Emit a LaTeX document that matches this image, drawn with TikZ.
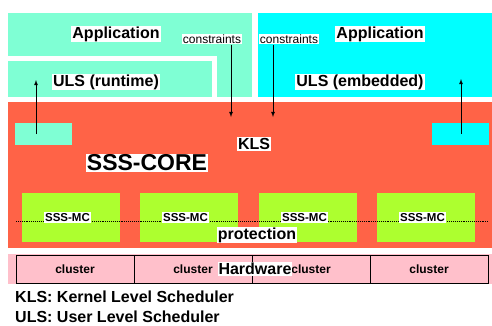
\documentclass[tikz,border=0pt]{standalone}
\usepackage{fontspec}
\setmainfont{Liberation Sans}
\usetikzlibrary{arrows}
\definecolor{aqua}{HTML}{7FFFD4}
\definecolor{cyanc}{HTML}{00FFFF}
\definecolor{coretomato}{HTML}{FF6347}
\definecolor{mcgreen}{HTML}{ADFF2F}
\definecolor{hwpink}{HTML}{FFC0CB}

\begin{document}
\begin{tikzpicture}
  [x=1pt,y=-1pt,
  box/.style={rectangle,inner sep=0pt,outer sep=0pt},
  bigtxt/.style={fill=white,inner sep=1pt,font=\fontsize{16}{18}\selectfont\bfseries},
  hugetxt/.style={fill=white,inner sep=1pt,font=\fontsize{23}{26}\selectfont\bfseries},
  smalltxt/.style={fill=white,inner sep=1pt,font=\fontsize{11.5}{13}\selectfont\bfseries},
  contxt/.style={fill=white,inner sep=1pt,font=\fontsize{12}{14}\selectfont},
  legtxt/.style={inner sep=0pt,anchor=west,font=\fontsize{16}{18}\selectfont\bfseries},
  arr/.style={->,>=latex,line width=0.8pt}]
  \useasboundingbox (0,0) rectangle (492,325);

  \node[box,fill=aqua,minimum width=244pt,minimum height=84pt] (appL) at (130,55) {};
  \fill[white] (8,56) rectangle (217,97);
  \node[box,fill=aqua,minimum width=204pt,minimum height=36pt] (ulsL) at (110,79) {};
  \node[box,fill=cyanc,minimum width=234pt,minimum height=84pt] (appR) at (375,55) {};

  \node[box,fill=coretomato,minimum width=484pt,minimum height=146pt] (core) at (250,175) {};
  \node[box,fill=aqua,minimum width=57pt,minimum height=22pt] (miniL) at (43.5,134) {};
  \node[box,fill=cyanc,minimum width=57pt,minimum height=22pt] (miniR) at (460.5,134) {};

  \foreach \x [count=\i] in {71,189,308,426}
    \node[box,fill=mcgreen,minimum width=98pt,minimum height=49pt] (mc\i) at (\x,217.5) {};
  \draw[densely dotted,line width=0.9pt] (16,221) -- (488,221);
  \foreach \i in {1,...,4}
    \node[smalltxt,xshift=-3.5pt] (mclbl\i) at (mc\i.center) {SSS-MC};

  \node[box,fill=hwpink,minimum width=484pt,minimum height=30pt] (hw) at (250,269) {};
  \foreach \x [count=\i] in {75,193,311,429}
    \node[box,draw=black,line width=0.8pt,fill=hwpink,minimum width=118pt,minimum height=28pt,
      font=\fontsize{12}{14}\selectfont\bfseries] (cl\i) at (\x,269) {cluster};

  \node[bigtxt] (applL) at (116,34) {Application};
  \node[bigtxt] (applR) at (380,34) {Application};
  \node[bigtxt] (ulsrun) at (106,82) {ULS (runtime)};
  \node[bigtxt] (ulsemb) at (360,82) {ULS (embedded)};
  \node[contxt] (conL) at (212,39) {constraints};
  \node[contxt] (conR) at (289,39) {constraints};
  \node[bigtxt] (kls) at (254,144) {KLS};
  \node[hugetxt] (ssscore) at (147,163) {SSS-CORE};
  \node[bigtxt] (prot) at (257,235) {protection};
  \node[bigtxt] (hwlbl) at (255,269) {Hardware};

  \node[legtxt] (legK) at (15,297) {KLS: Kernel Level Scheduler};
  \node[legtxt] (legU) at (15,317) {ULS: User Level Scheduler};

  \coordinate (upL) at (36,80);
  \coordinate (upR) at (461,79);
  \coordinate (downL) at (231,117);
  \coordinate (downR) at (273,117);
  \draw[arr] (miniL.center -| upL) -- (upL);
  \draw[arr] (miniR.center -| upR) -- (upR);
  \draw[arr] (conL.south -| downL) -- (downL);
  \draw[arr] (conR.south -| downR) -- (downR);
\end{tikzpicture}
\end{document}
